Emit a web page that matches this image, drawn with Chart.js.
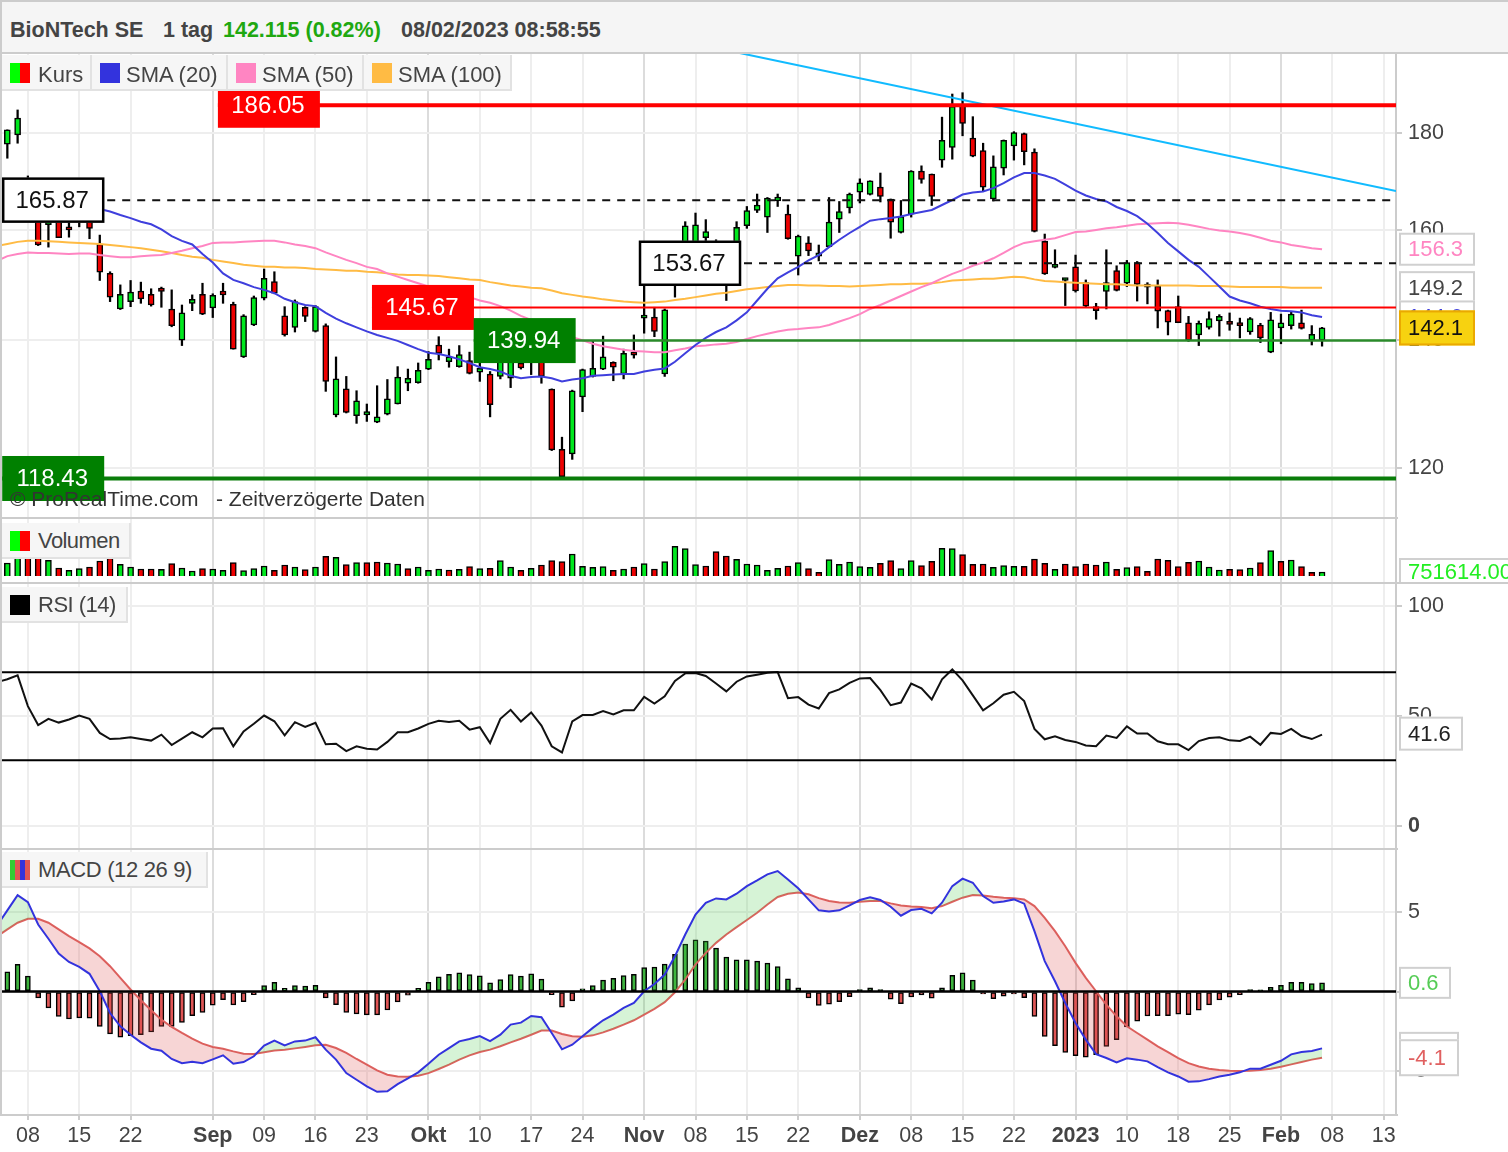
<!DOCTYPE html>
<html>
<head>
<meta charset="utf-8">
<title>BioNTech SE</title>
<script src="https://cdn.jsdelivr.net/npm/chart.js@4/dist/chart.umd.js"></script>
<style>
html, body { margin: 0; padding: 0; background: #fff; }
body { width: 1508px; height: 1152px; position: relative; overflow: hidden; font-family: "Liberation Sans", Arial, sans-serif; color: #444; }
canvas { position: absolute; left: 0; }
#head { position: absolute; left: 0; top: 0; width: 1508px; height: 52px; background: #f5f5f5; font-size: 21.5px; font-weight: bold; line-height: 60px; white-space: pre; }
#head span { position: absolute; top: 0; }
.rule { position: absolute; background: #ccc; }
.leg { position: absolute; height: 34px; background: #f6f6f6; border: 1px solid #e2e2e2; border-width: 0 2px 2px 0; font-size: 22px; line-height: 36px; white-space: pre; }
.leg i { position: absolute; left: 8px; top: 8px; height: 20px; width: 20px; }
.leg b { position: absolute; left: 36px; top: 0; font-weight: normal; }
.top b { left: 34px; top: 2px; }
#copy span { position: absolute; top: 487px; font-size: 21px; color: #333; white-space: pre; }
</style>
</head>
<body>
<div id="head"><span style="left:10px">BioNTech SE</span><span style="left:163px">1 tag</span><span style="left:223px;color:#20a810">142.115 (0.82%)</span><span style="left:401px">08/02/2023 08:58:55</span></div>
<canvas id="priceChart" width="1508" height="465" style="top:53px"></canvas>
<canvas id="volChart" width="1508" height="64" style="top:518px"></canvas>
<canvas id="rsiChart" width="1508" height="266" style="top:582px"></canvas>
<canvas id="macdChart" width="1508" height="304" style="top:848px"></canvas>
<div class="rule" style="left:0;top:0;width:1508px;height:2px"></div>
<div class="rule" style="left:0;top:52px;width:1508px;height:2px"></div>
<div class="rule" style="left:0;top:517px;width:1398px;height:2px"></div>
<div class="rule" style="left:0;top:582px;width:1508px;height:2px"></div>
<div class="rule" style="left:0;top:848px;width:1398px;height:2px"></div>
<div class="rule" style="left:0;top:1114px;width:1398px;height:2px"></div>
<div class="rule" style="left:0;top:0;width:2px;height:1116px"></div>
<div class="leg top" style="left:2px;top:55px;width:88px"><i style="background:linear-gradient(90deg,#0f0 50%,#f00 50%)"></i><b style="left:36px">Kurs</b></div>
<div class="leg top" style="left:92px;top:55px;width:134px"><i style="background:#3333dd"></i><b>SMA (20)</b></div>
<div class="leg top" style="left:228px;top:55px;width:134px"><i style="background:#ff85c2"></i><b>SMA (50)</b></div>
<div class="leg top" style="left:364px;top:55px;width:146px"><i style="background:#ffbb44"></i><b>SMA (100)</b></div>
<div class="leg" style="left:2px;top:523px;width:127px"><i style="background:linear-gradient(90deg,#0f0 50%,#f00 50%)"></i><b style="letter-spacing:-.57px">Volumen</b></div>
<div class="leg" style="left:2px;top:587px;width:124px"><i style="background:#000"></i><b style="letter-spacing:-.5px">RSI (14)</b></div>
<div class="leg" style="left:2px;top:852px;width:204px"><i style="background:linear-gradient(90deg,#3c3 25%,#e05555 25%,#e05555 50%,#33d 50%,#33d 75%,#e05555 75%)"></i><b style="letter-spacing:-.35px">MACD (12 26 9)</b></div>
<div id="copy"><span style="left:10px">© ProRealTime.com</span><span style="left:216px">- Zeitverzögerte Daten</span></div>
<script>
const opens = [
  177.5,179.5,170.0,164.9,161.0,162.9,160.6,161.6,162.3,157.3,
  151.8,145.4,146.7,148.6,148.0,149.1,145.4,140.0,146.4,148.0,
  145.6,148.6,146.2,137.2,142.6,147.3,150.3,144.2,142.2,145.7,
  141.5,142.5,127.9,132.0,127.8,127.9,126.8,128.0,129.6,132.9,
  133.0,135.2,139.2,136.4,135.6,136.6,134.7,134.4,134.0,133.7,
  136.2,136.4,136.7,131.95,122.7,122.0,130.7,134.0,135.2,136.3,
  134.4,137.9,143.8,144.0,134.4,149.7,155.2,156.2,158.5,157.1,
  155.2,154.7,160.8,163.8,162.5,165.7,163.1,155.0,157.5,155.0,
  156.8,162.1,164.3,167.5,167.0,168.5,166.1,159.5,163.1,171.8,
  171.2,174.1,176.8,186.0,178.8,176.1,166.1,172.4,177.1,179.8,
  175.8,157.8,152.9,150.5,153.0,150.1,145.8,148.5,152.3,150.0,
  153.8,149.3,149.5,145.1,145.8,143.0,140.9,142.2,143.3,143.2,
  143.0,141.4,142.6,138.0,142.1,142.5,143.0,140.0,140.0
]
const highs = [
  180.6,185.0,170.8,165.9,163.5,163.9,161.6,162.9,163.1,159.0,
  152.1,149.7,150.5,150.2,149.0,149.3,148.8,146.1,147.9,150.0,
  148.1,150.0,146.6,144.4,147.7,152.6,152.1,145.8,147.0,145.8,
  146.0,142.8,137.2,134.0,131.7,129.6,132.5,133.5,135.6,135.2,
  136.2,138.1,140.6,138.5,139.1,138.0,136.4,134.8,139.2,138.4,
  137.5,138.4,137.5,132.0,124.5,131.8,135.2,139.8,140.7,136.4,
  138.5,140.9,150.6,145.7,145.4,157.5,161.6,163.3,162.0,158.1,
  156.2,161.6,164.6,167.1,166.4,167.1,164.9,159.0,158.7,157.1,
  166.4,165.6,167.3,170.2,169.8,171.4,166.1,165.8,171.9,172.9,
  171.2,183.4,188.6,188.9,183.5,177.7,175.0,178.4,180.2,179.9,
  176.5,159.2,156.2,150.9,155.2,150.6,146.4,156.2,153.2,154.2,
  154.0,150.1,150.6,145.2,147.7,144.1,143.3,144.9,144.4,144.7,
  143.8,143.9,142.9,144.8,144.5,144.9,145.2,142.5,142.2
]
const lows = [
  174.5,177.7,161.6,157.0,156.7,158.5,158.6,160.6,158.3,150.5,
  146.7,145.3,145.8,146.4,145.9,145.7,142.3,139.1,145.1,144.4,
  143.9,146.4,138.5,137.1,142.5,147.0,148.1,140.7,141.4,143.2,
  141.4,131.6,127.6,128.2,126.6,126.9,126.7,127.9,129.6,131.7,
  132.9,135.1,136.7,135.5,135.5,134.4,133.2,127.6,133.6,132.2,
  135.2,134.3,132.9,122.5,118.43,121.2,128.4,133.9,135.1,133.3,
  133.6,137.0,141.2,140.6,134.0,147.5,152.4,153.9,157.5,151.5,
  146.9,152.4,160.3,163.4,159.5,164.6,158.2,151.5,155.1,154.1,
  156.7,159.5,163.3,165.3,166.9,165.5,158.4,159.4,162.5,169.3,
  164.8,172.6,174.3,179.3,174.8,167.7,165.7,171.0,174.1,173.1,
  159.6,151.6,152.8,146.0,148.4,145.8,143.6,145.4,148.6,149.4,
  146.8,146.3,142.1,140.9,143.0,139.8,139.1,141.9,140.7,141.7,
  140.4,141.0,139.6,137.9,139.4,141.9,141.9,139.2,139.0
]
const closes = [
  180.6,183.2,164.9,157.1,162.9,158.5,160.0,162.3,160.3,152.0,
  147.5,148.0,148.4,147.2,146.1,148.5,142.5,144.7,147.1,144.5,
  147.8,147.9,138.5,144.2,147.4,150.9,148.2,140.9,146.7,144.1,
  145.8,133.2,133.6,128.3,130.1,128.4,127.6,130.4,133.9,133.7,
  135.0,136.8,137.8,137.2,137.6,134.5,135.3,129.5,136.7,136.7,
  135.4,137.5,134.0,122.6,118.7,131.7,135.1,135.3,137.2,135.5,
  137.8,137.5,144.2,141.5,145.24,157.1,160.8,161.0,159.7,153.4,
  150.6,160.5,163.8,164.9,166.3,166.5,158.3,158.8,156.0,155.6,
  161.5,163.6,167.1,169.4,169.8,166.6,161.5,162.6,171.8,170.1,
  166.6,178.3,185.8,182.0,174.96,168.5,172.7,178.3,180.0,175.9,
  159.7,151.7,153.2,150.8,148.6,145.9,145.1,150.1,148.7,153.8,
  149.8,149.7,145.0,143.1,143.0,140.0,142.9,143.7,144.1,142.7,
  142.5,143.7,140.4,143.5,143.0,144.5,142.0,141.0,142.1
]
const sma20 = [
  null,null,null,null,null,null,null,null,null,164.1,
  163.6,162.9,162.3,161.6,161.1,160.1,158.8,157.9,157.2,155.4,
  153.8,151.8,150.6,150.0,149.3,148.8,148.2,147.2,146.6,146.1,
  145.9,144.7,143.7,142.9,142.2,141.5,140.9,140.4,139.9,139.2,
  138.5,137.9,137.7,137.3,136.8,136.2,135.5,135.2,134.8,134.1,
  133.7,133.9,134.0,133.7,133.2,133.5,133.7,134.1,134.2,134.3,
  134.4,134.4,134.8,135.1,135.3,136.4,137.8,139.2,140.4,141.4,
  142.2,143.4,144.8,146.9,149.0,150.9,152.0,153.0,154.2,155.2,
  156.7,158.1,159.4,160.6,161.8,162.1,162.3,162.6,163.1,163.5,
  163.9,164.9,165.9,167.0,167.4,167.6,168.3,169.3,170.5,171.4,
  171.4,170.9,170.2,169.0,167.8,166.8,166.1,165.6,164.5,163.7,
  162.7,161.2,159.4,157.5,155.9,154.3,153.0,151.2,149.4,147.6,
  146.9,146.4,145.8,145.4,145.1,145.0,144.8,144.3,144.0
]
const sma50 = [
  155.0,155.4,155.7,155.6,155.6,155.5,155.4,155.5,155.5,155.2,
  155.0,154.8,154.8,155.0,155.1,155.2,155.6,156.0,156.5,156.9,
  157.5,157.6,157.6,157.7,157.8,157.9,157.9,157.6,157.2,156.9,
  156.5,155.7,155.0,154.3,153.7,153.0,152.6,151.8,151.2,150.6,
  150.0,149.4,148.9,148.4,147.9,147.5,146.9,146.5,145.9,145.1,
  144.2,143.5,142.6,141.9,141.2,140.5,140.0,139.4,139.0,138.7,
  138.4,138.2,138.1,138.0,138.0,138.3,138.6,139.0,139.1,139.3,
  139.4,139.7,140.2,140.7,141.1,141.5,141.8,141.9,142.1,142.2,
  142.6,143.2,143.8,144.5,145.4,146.1,146.9,147.7,148.5,149.3,
  150.0,150.9,151.7,152.4,153.2,153.8,154.6,155.6,156.7,157.5,
  157.8,158.1,158.4,159.0,159.6,159.7,160.0,160.3,160.5,160.8,
  161.1,161.2,161.3,161.4,161.3,161.0,160.6,160.2,159.9,159.7,
  159.4,159.0,158.5,157.9,157.6,157.1,156.8,156.5,156.3
]
const sma100 = [
  157.3,157.7,157.9,157.9,157.8,157.7,157.6,157.5,157.4,157.3,
  157.1,156.9,156.7,156.5,156.2,155.9,155.6,155.2,154.9,154.7,
  154.3,154.0,153.7,153.4,153.2,153.0,153.0,152.9,152.9,152.8,
  152.6,152.5,152.4,152.3,152.3,152.1,152.0,151.8,151.6,151.5,
  151.5,151.4,151.3,151.1,150.9,150.7,150.6,150.2,149.9,149.6,
  149.4,149.2,149.1,148.7,148.2,147.9,147.6,147.4,147.1,146.9,
  146.7,146.6,146.5,146.6,146.7,147.0,147.2,147.5,147.8,148.1,
  148.3,148.6,148.9,149.1,149.3,149.5,149.7,149.7,149.6,149.6,
  149.5,149.5,149.4,149.5,149.6,149.7,149.8,149.8,149.9,149.9,
  150.0,150.2,150.5,150.6,150.7,150.8,150.8,151.0,151.2,151.1,
  150.7,150.4,150.3,150.2,150.1,150.0,149.9,149.8,149.8,149.7,
  149.6,149.6,149.6,149.6,149.6,149.6,149.5,149.5,149.5,149.4,
  149.3,149.3,149.3,149.3,149.3,149.2,149.2,149.2,149.2
]
// volume in thousands
const volumes = [
  2441,3568,3881,3881,2942,1502,1064,1377,1690,2817,
  3380,2191,1690,1315,1315,1252,2316,1502,939,1377,
  1315,1064,2504,1002,1377,1878,1064,2066,1690,1189,
  1690,3693,3506,2128,2504,2504,2629,2441,2254,1377,
  1690,1064,1315,1127,1252,1753,1377,1440,2880,1690,
  1064,1440,2066,2880,2692,4132,1815,1628,1753,1064,
  1315,1690,2316,1315,2692,5571,5133,2128,1878,4570,
  3756,3130,2254,2066,1064,1440,1878,2504,1377,689,
  3067,2191,2629,1753,1628,2379,2880,1377,2880,1941,
  2754,5196,5133,4006,2191,2254,1628,1941,1815,1815,
  3193,2379,1252,2254,1753,2254,2066,2629,1252,1565,
  1753,876,3193,2942,1753,2567,2817,1690,1127,1252,
  1189,1502,2504,4758,2754,3005,1753,689,752
]
const volumeUp = [
  1,1,0,0,1,0,1,1,0,0,
  0,1,1,0,0,1,0,1,1,0,
  1,1,0,1,1,1,0,0,1,0,
  1,0,1,0,1,0,0,1,1,0,
  1,1,1,0,1,0,1,0,1,1,
  0,1,0,0,0,1,1,1,1,0,
  1,0,1,0,1,1,1,1,0,0,
  0,1,1,1,1,1,0,1,0,0,
  1,1,1,1,1,0,0,1,1,0,
  0,1,1,0,0,0,1,1,1,0,
  0,0,1,0,0,0,0,1,0,1,
  0,0,0,0,0,0,1,1,1,0,
  0,1,0,1,0,1,0,0,1
]
const rsi = [
  66.8,68.6,54.6,46.0,48.8,47.1,48.5,50.3,48.8,42.4,
  39.6,39.9,40.4,39.6,38.9,41.6,36.9,39.8,42.7,40.4,
  44.4,44.5,36.3,43.1,46.6,50.3,47.7,41.3,47.3,45.1,
  47.0,37.2,37.5,34.1,36.3,35.2,34.8,38.3,42.7,42.7,
  44.4,46.5,47.9,47.4,47.9,43.9,45.0,37.8,48.8,52.9,
  47.6,51.7,45.7,36.3,33.5,47.6,50.5,50.6,52.3,50.8,
  52.7,52.7,58.8,55.8,59.1,66.0,69.5,69.7,68.3,64.9,
  61.3,65.7,68.1,68.9,69.8,70.1,58.2,58.7,55.3,53.5,
  60.5,62.2,65.2,67.2,67.4,61.9,55.0,56.2,64.9,62.7,
  57.6,66.8,71.3,66.3,59.5,52.7,55.9,59.8,61.1,56.9,
  44.2,39.5,40.9,39.2,38.3,36.7,36.3,41.2,40.1,45.4,
  42.1,42.1,38.6,37.2,37.2,34.6,38.7,40.1,40.4,39.0,
  38.7,40.7,37.0,42.4,41.9,44.2,41.0,39.6,41.6
]
const macd = [
  5.12,6.08,5.64,4.23,3.33,2.40,1.87,1.56,1.12,0.02,
  -1.35,-2.19,-2.72,-3.20,-3.60,-3.73,-4.25,-4.51,-4.42,-4.51,
  -4.27,-4.02,-4.55,-4.44,-4.08,-3.41,-3.09,-3.39,-3.14,-3.09,
  -2.88,-3.66,-4.29,-5.14,-5.56,-5.98,-6.32,-6.29,-5.83,-5.47,
  -5.09,-4.55,-3.98,-3.56,-3.14,-2.99,-2.80,-3.12,-2.72,-2.08,
  -1.96,-1.54,-1.62,-2.61,-3.64,-3.35,-2.82,-2.29,-1.81,-1.45,
  -1.03,-0.72,0.02,0.48,1.07,2.23,3.60,4.86,5.60,5.87,
  5.81,6.17,6.65,7.01,7.39,7.60,7.07,6.51,5.81,5.12,
  5.05,5.12,5.43,5.77,5.94,5.77,5.35,4.78,5.14,5.22,
  4.93,5.60,6.65,7.12,6.86,6.02,5.60,5.68,5.81,5.54,
  3.81,1.92,0.65,-0.72,-1.98,-3.03,-3.94,-4.19,-4.46,-4.21,
  -4.29,-4.40,-4.76,-5.09,-5.35,-5.68,-5.66,-5.52,-5.35,-5.24,
  -5.09,-4.86,-4.86,-4.61,-4.36,-3.96,-3.81,-3.75,-3.58
]
const signal = [
  3.92,4.34,4.59,4.59,4.34,3.92,3.49,3.12,2.72,2.23,
  1.60,0.86,0.13,-0.55,-1.18,-1.77,-2.23,-2.61,-2.97,-3.28,
  -3.49,-3.60,-3.77,-3.92,-3.94,-3.83,-3.71,-3.66,-3.58,-3.49,
  -3.39,-3.35,-3.56,-3.87,-4.25,-4.61,-4.97,-5.24,-5.35,-5.37,
  -5.31,-5.14,-4.88,-4.61,-4.29,-4.02,-3.81,-3.66,-3.45,-3.20,
  -2.97,-2.72,-2.46,-2.46,-2.67,-2.82,-2.84,-2.76,-2.57,-2.34,
  -2.08,-1.81,-1.45,-1.09,-0.67,-0.04,0.76,1.71,2.44,3.07,
  3.60,4.06,4.51,4.97,5.49,5.96,6.17,6.25,6.13,5.89,
  5.71,5.62,5.60,5.66,5.71,5.71,5.56,5.43,5.37,5.33,
  5.26,5.39,5.66,5.92,6.08,6.06,5.98,5.92,5.89,5.81,
  5.39,4.65,3.81,2.86,1.81,0.86,0.02,-0.82,-1.56,-2.19,
  -2.61,-3.03,-3.45,-3.81,-4.19,-4.51,-4.72,-4.86,-4.95,-4.99,
  -5.01,-4.99,-4.95,-4.86,-4.74,-4.59,-4.44,-4.29,-4.17
]
const histogram = [
  1.24,1.71,0.97,-0.40,-1.03,-1.56,-1.73,-1.66,-1.68,-2.19,
  -2.67,-2.88,-2.78,-2.72,-2.55,-2.19,-2.19,-1.94,-1.52,-1.31,
  -0.86,-0.51,-0.84,-0.63,-0.19,0.38,0.59,0.21,0.38,0.34,
  0.40,-0.40,-0.82,-1.31,-1.41,-1.47,-1.47,-1.16,-0.65,-0.23,
  0.21,0.59,0.93,1.09,1.18,1.07,0.99,0.55,0.76,1.07,
  0.97,1.12,0.78,-0.19,-0.99,-0.59,0.17,0.38,0.72,0.84,
  1.01,1.09,1.52,1.54,1.73,2.34,2.99,3.26,3.18,2.74,
  2.17,2.00,2.00,1.92,1.79,1.58,0.80,0.23,-0.40,-0.88,
  -0.80,-0.63,-0.32,0.13,0.23,0.13,-0.48,-0.76,-0.34,-0.21,
  -0.42,0.23,1.03,1.18,0.72,-0.15,-0.44,-0.29,-0.15,-0.38,
  -1.56,-2.82,-3.41,-3.83,-4.04,-4.13,-3.98,-3.45,-3.03,-2.23,
  -1.87,-1.54,-1.52,-1.52,-1.43,-1.45,-1.18,-0.84,-0.53,-0.36,
  -0.19,0.13,0.11,0.27,0.40,0.59,0.59,0.50,0.55
]
// values of the bar just left of the visible range, the lines run in from it
const priorSma50 = 154.1
const priorSma100 = 156.9
const priorRsi = 65.5
const priorMacd = 4.17
const priorSignal = 3.49
const tickBars = [2,7,12,20,25,30,35,41,46,51,56,62,67,72,77,83,88,93,98,104,109,114,119,124,129,134]
const tickLabels = ['08','15','22','Sep','09','16','23','Okt','10','17','24','Nov','08','15','22','Dez','08','15','22','2023','10','18','25','Feb','08','13']
const monthLabels = ['Sep','Okt','Nov','Dez','2023','Feb']
const levelValues = [186.05,165.87,153.67,145.67,139.94,118.43]
const levelStart = [20.5,-0.5,61.5,35.5,45.4,-0.5]
const trendBars = [71.3,135.2]
const trendPrices = [198.2,167.7]

const xMin = -0.52
const xMax = 135.2
const font = '"Liberation Sans", Arial, sans-serif'
const pts = (a, prior) => {
  const out = a.map((y, i) => ({ x: i, y }))
  if (prior !== undefined) out.unshift({ x: -1, y: prior })
  return out
}

function xAxis(labels) {
  return {
    type: 'linear', min: xMin, max: xMax, bounds: 'data', offset: false,
    border: { display: false },
    afterBuildTicks: s => { s.ticks = tickBars.map(value => ({ value })) },
    afterFit: s => { s.height = labels ? 37 : 0; s.paddingLeft = 0; s.paddingRight = 0 },
    grid: {
      offset: false, lineWidth: 2, drawTicks: labels, tickLength: 5, tickColor: '#ccc',
      color: c => (c.tick && monthLabels.includes(tickLabels[tickBars.indexOf(c.tick.value)])) ? '#dcdcdc' : '#eeeeee'
    },
    ticks: {
      display: labels, autoSkip: false, maxRotation: 0, padding: 3, color: '#444',
      callback: (v, i) => tickLabels[i],
      font: c => ({
        family: font, size: 21.5,
        weight: c.tick && monthLabels.includes(c.tick.label) ? 'bold' : 'normal'
      })
    }
  }
}

function yAxis(min, max, values, extra) {
  return Object.assign({
    type: 'linear', position: 'right', min, max, bounds: 'data', beginAtZero: false,
    border: { color: '#ccc', width: 2 },
    afterFit: s => { s.width = 112; s.paddingTop = 0; s.paddingBottom = 0 },
    afterBuildTicks: s => { s.ticks = values.map(value => ({ value })) },
    grid: { color: '#eeeeee', lineWidth: 2, tickLength: 6, tickColor: '#ccc' },
    ticks: { color: '#444', padding: 6, autoSkip: false, font: { family: font, size: 21.5 }, callback: v => String(v) }
  }, extra || {})
}

function line(data, color, width, order, extra) {
  return Object.assign({
    type: 'line', data, borderColor: color, borderWidth: width, pointRadius: 0,
    tension: 0, fill: false, order
  }, extra || {})
}

function box(ctx, x, yc, w, h, text, opt) {
  ctx.save()
  ctx.fillStyle = opt.fill || '#fff'
  ctx.fillRect(x, yc - h / 2, w, h)
  ctx.lineWidth = opt.lw || 2
  ctx.strokeStyle = opt.border || '#d0d0d0'
  if (opt.border !== 'none') ctx.strokeRect(x + 1, yc - h / 2 + 1, w - 2, h - 2)
  ctx.fillStyle = opt.color || '#444'
  ctx.font = (opt.size || 22) + 'px ' + font
  ctx.textBaseline = 'middle'
  ctx.textAlign = opt.center ? 'center' : 'left'
  ctx.fillText(text, opt.center ? x + w / 2 - 1 : x + 9, yc + 1)
  ctx.restore()
}

const base = {
  responsive: false, animation: false, events: [],
  layout: { padding: { left: 2 }, autoPadding: false },
  plugins: { legend: { display: false }, tooltip: { enabled: false } }
}

const upColor = '#00e81e'
const downColor = '#ee0000'
const tagStyles = [
  { fill: '#ff0000', color: '#fff', border: 'none' },
  { fill: '#fff', color: '#111', border: '#000' },
  { fill: '#fff', color: '#111', border: '#000' },
  { fill: '#ff0000', color: '#fff', border: 'none' },
  { fill: '#008000', color: '#fff', border: 'none' },
  { fill: '#008000', color: '#fff', border: 'none' }
]
const levelLooks = [
  ['#ff0000', 4, []], ['#111', 2, [8, 7]], ['#111', 2, [8, 7]],
  ['#ff0000', 2, []], ['#2a8a2a', 2.5, []], ['#0a7d0a', 4, []]
]

new Chart(document.getElementById('priceChart'), {
  type: 'bar',
  data: {
    datasets: [
      ...levelValues.map((v, k) => line([{ x: levelStart[k], y: v }, { x: xMax, y: v }], levelLooks[k][0], levelLooks[k][1], 0, { borderDash: levelLooks[k][2] })),
      line(trendBars.map((x, k) => ({ x, y: trendPrices[k] })), '#11bbff', 2, 0),
      line(pts(sma20), '#3f3fdd', 2, 1),
      line(pts(sma50, priorSma50), '#ff85c2', 2, 1),
      line(pts(sma100, priorSma100), '#ffbb44', 2, 1),
      {
        data: opens.map((o, i) => ({ x: i, y: [o, closes[i]] })),
        backgroundColor: closes.map((c, i) => c >= opens[i] ? upColor : downColor),
        borderColor: '#000', borderWidth: 1.5, borderSkipped: false,
        barThickness: 6, minBarLength: 3, grouped: false, order: 2
      },
      {
        data: highs.map((h, i) => ({ x: i, y: [lows[i], h] })),
        backgroundColor: '#000', borderWidth: 0, barThickness: 1.6, grouped: false, order: 3
      }
    ]
  },
  options: Object.assign({}, base, {
    scales: {
      x: xAxis(false),
      y: yAxis(112.9, 198.2, [120, 140, 160, 180], { type: 'logarithmic' })
    }
  }),
  plugins: [{
    id: 'priceTags',
    afterDraw(c) {
      const ctx = c.ctx, y = c.scales.y, x = c.scales.x
      levelValues.forEach((v, k) => {
        box(ctx, x.getPixelForValue(levelStart[k]), y.getPixelForValue(v), 102, 45, v.toFixed(2),
          Object.assign({ size: 24, center: true, lw: 2.5 }, tagStyles[k]))
      })
      const right = 1399
      box(ctx, right, y.getPixelForValue(156.3), 76, 33, '156.3', { color: '#ff85c2' })
      box(ctx, right, y.getPixelForValue(149.2), 76, 33, '149.2', {})
      box(ctx, right, y.getPixelForValue(144.0), 76, 33, '144.0', { color: '#3f3fdd' })
      box(ctx, right, y.getPixelForValue(142.1), 76, 35, '142.1', { fill: '#f7d210', border: '#eaa900', color: '#111' })
    }
  }]
})

new Chart(document.getElementById('volChart'), {
  type: 'bar',
  data: {
    datasets: [{
      data: pts(volumes),
      backgroundColor: volumeUp.map(u => u ? '#00e81e' : '#ee0000'),
      borderColor: '#000', borderWidth: 1.5, borderSkipped: 'bottom', barThickness: 6, grouped: false
    }]
  },
  options: Object.assign({}, base, {
    scales: {
      x: xAxis(false),
      y: yAxis(-1128, 10904, [], { grid: { display: false }, ticks: { display: false } })
    }
  }),
  plugins: [{
    id: 'volTag',
    afterDraw(c) {
      box(c.ctx, 1399, c.scales.y.getPixelForValue(751.614) + 0, 120, 28, '751614.00', { color: '#22ee22' })
    }
  }]
})

new Chart(document.getElementById('rsiChart'), {
  type: 'line',
  data: {
    datasets: [
      line([{ x: xMin, y: 70 }, { x: xMax, y: 70 }], '#000', 2, 0),
      line([{ x: xMin, y: 30 }, { x: xMax, y: 30 }], '#000', 2, 0),
      line(pts(rsi, priorRsi), '#111', 2, 1)
    ]
  },
  options: Object.assign({}, base, {
    scales: {
      x: xAxis(false),
      y: yAxis(-10, 111.1, [0, 50, 100], {
        ticks: {
          color: '#444', padding: 6, autoSkip: false, callback: v => String(v),
          font: c => ({ family: font, size: 21.5, weight: c.tick && c.tick.value === 0 ? 'bold' : 'normal' })
        }
      })
    }
  }),
  plugins: [{
    id: 'rsiTag',
    afterDraw(c) {
      box(c.ctx, 1399, c.scales.y.getPixelForValue(41.6) - 1, 64, 34, '41.6', { color: '#222' })
    }
  }]
})

new Chart(document.getElementById('macdChart'), {
  type: 'bar',
  data: {
    datasets: [
      line([{ x: xMin, y: 0 }, { x: xMax, y: 0 }], '#000', 2.5, 0),
      line(pts(macd, priorMacd), '#3333dd', 2, 1, {
        fill: { target: 2, above: 'rgba(70,200,70,0.22)', below: 'rgba(220,80,80,0.24)' }
      }),
      line(pts(signal, priorSignal), '#e06060', 2, 1),
      {
        data: pts(histogram),
        backgroundColor: histogram.map(v => v >= 0 ? '#3db33d' : '#e05555'),
        borderColor: '#000', borderWidth: 1.5, borderSkipped: false, barThickness: 5, grouped: false, order: 3
      }
    ]
  },
  options: Object.assign({}, base, {
    scales: {
      x: xAxis(true),
      y: yAxis(-7.78, 9.05, [5, 0, -5])
    }
  }),
  plugins: [{
    id: 'macdTags',
    afterDraw(c) {
      const y = c.scales.y
      box(c.ctx, 1399, y.getPixelForValue(0.55), 52, 32, '0.6', { color: '#55cc55' })
      box(c.ctx, 1399, y.getPixelForValue(-3.58), 60, 33, '-3.6', { color: '#3333dd' })
      box(c.ctx, 1399, y.getPixelForValue(-4.17), 60, 37, '-4.1', { color: '#e06060' })
    }
  }]
})
</script>
</body>
</html>
